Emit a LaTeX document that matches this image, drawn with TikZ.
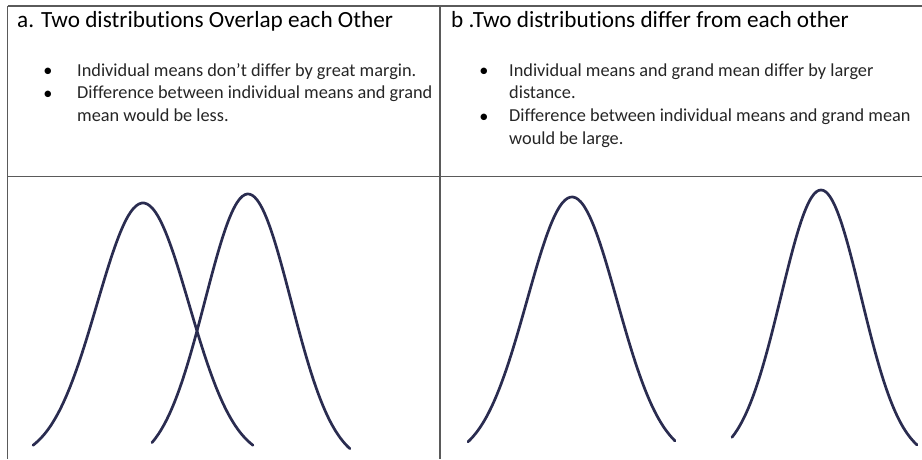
\documentclass[tikz,border=0pt]{standalone}
\usepackage{fontspec}
\setmainfont{Carlito}[Ligatures=NoCommon]
\usetikzlibrary{positioning}
\definecolor{ruleink}{HTML}{5A5A5A}
\definecolor{penink}{HTML}{2A2C50}
\definecolor{textink}{HTML}{262626}
% bell curve: from, to, mean, sigma, height, base
\newcommand{\bellcurve}[6]{%
  \draw[bellline] plot[domain=#1:#2, samples=80, smooth]
    (\x, {#6-#5*exp(-((\x-#3)^2)/(2*#4*#4))});}

\begin{document}
\begin{tikzpicture}[x=1pt, y=-1pt,
    tablerule/.style={ruleink, line width=1.4pt},
    bellline/.style={penink, line width=2.7pt, line cap=round, line join=round},
    headtext/.style={anchor=base west, inner sep=0pt, text=black,
      font=\fontsize{23.2}{27}\selectfont},
    itemtext/.style={anchor=north west, inner sep=0pt, text=textink, align=left,
      font=\fontsize{18.3}{22.5}\selectfont},
    dottext/.style={anchor=base, inner sep=0pt, text=black,
      font=\fontsize{18.3}{22.5}\selectfont}]
  \useasboundingbox (0,0) rectangle (922,459);
  \fill[white] (0,0) rectangle (922,459);

  % table
  \coordinate (tl) at (7.5,6);
  \coordinate (tr) at (922,6);
  \coordinate (ml) at (7.5,176.5);
  \coordinate (mr) at (922,176.5);
  \draw[tablerule] (tl) -- (tr);
  \draw[tablerule] (ml) -- (mr);
  \draw[tablerule] (tl) -- (7.5,459);
  \draw[tablerule] (440,6) -- (440,459);

  % headings
  \node[headtext] (heada) at (17,27) {a. Two distributions Overlap each Other};
  \node[headtext] (headb) at (451,27) {b .Two distributions differ from each other};

  % left points
  \node[dottext] (dota1) at (48,76.5) {\textbullet};
  \node[itemtext] (itema1) at (77,63.5) {Individual means don’t differ by great margin.};
  \node[dottext] (dota2) at (48,99) {\textbullet};
  \node[itemtext] (itema2) at (77,86)
    {Difference between individual means and grand\\ mean would be less.};

  % right points
  \node[dottext] (dotb1) at (484,76.5) {\textbullet};
  \node[itemtext] (itemb1) at (509,63.5)
    {Individual means and grand mean differ by larger\\ distance.};
  \node[dottext] (dotb2) at (484,122) {\textbullet};
  \node[itemtext] (itemb2) at (509,109)
    {Difference between individual means and grand mean\\ would be large.};

  % overlapping pair
  \bellcurve{33}{253}{143}{46}{257}{460}
  \bellcurve{152}{350}{248}{43}{271}{465}
  % separated pair
  \bellcurve{468}{675}{572}{45}{263}{460}
  \bellcurve{732}{917}{821}{40}{270}{460}
\end{tikzpicture}
\end{document}
